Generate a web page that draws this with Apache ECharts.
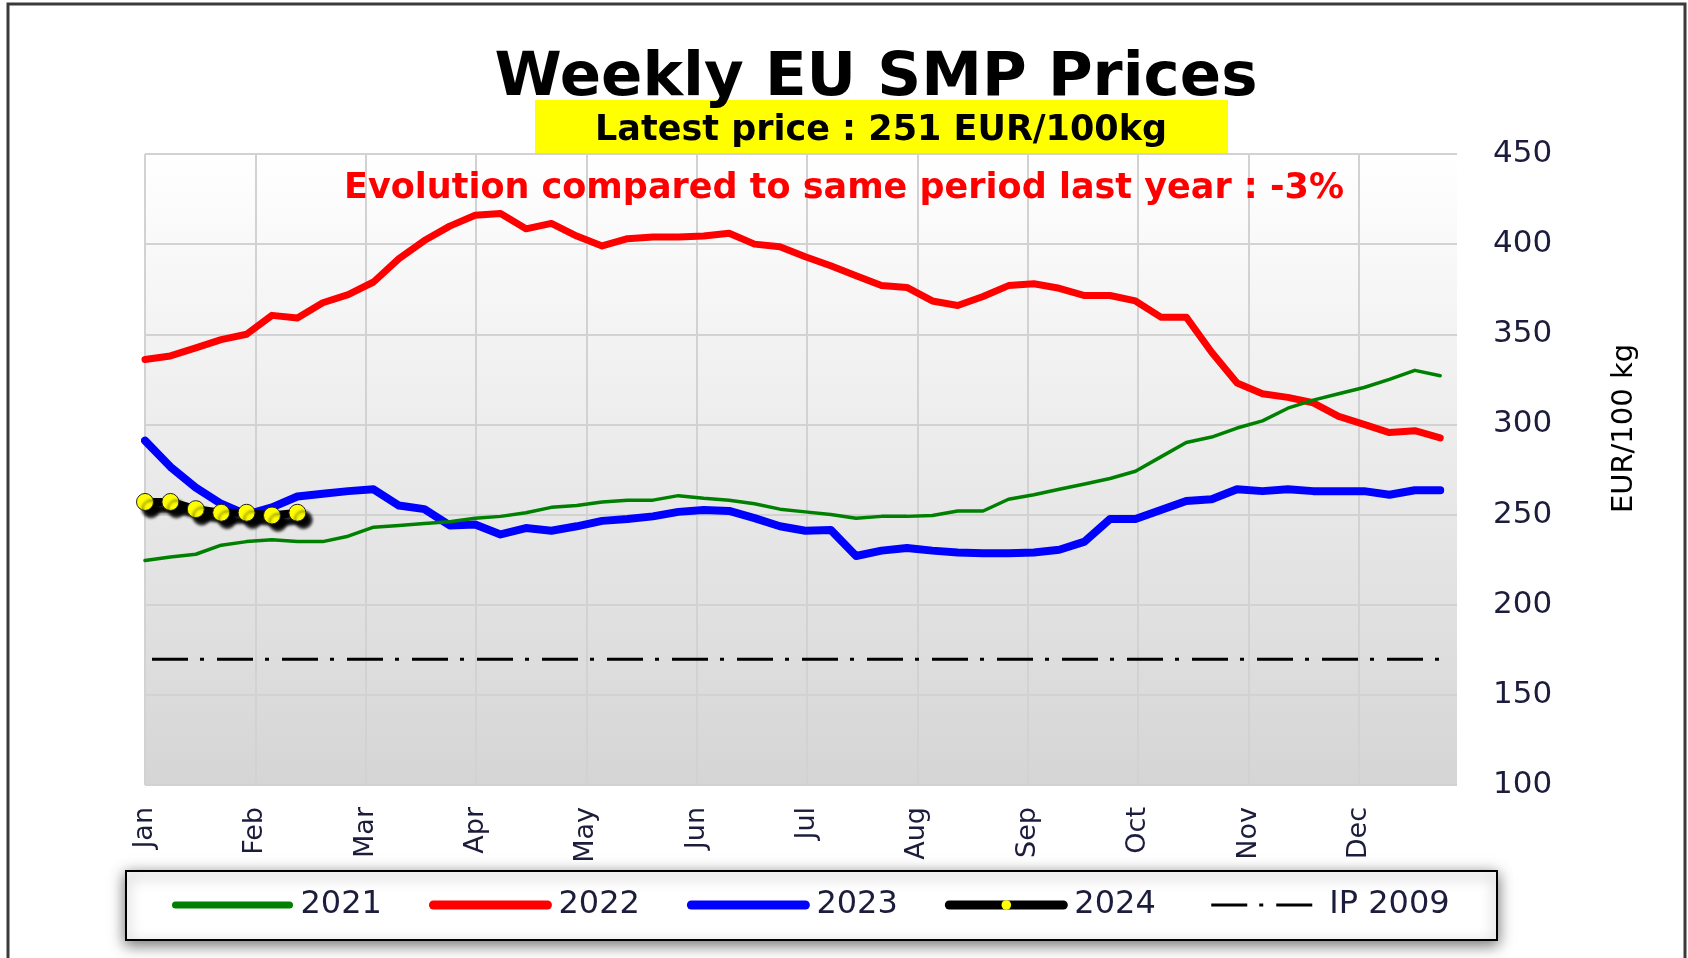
<!DOCTYPE html>
<html>
<head>
<meta charset="utf-8">
<script src="https://cdn.jsdelivr.net/npm/echarts@6/dist/echarts.min.js"></script>
<style>
html,body{margin:0;padding:0;background:#fff;}
#c{width:1688px;height:958px;}
</style>
</head>
<body>
<div id="c"></div>
<script>
// ---- data ----
const months = ['Jan','Feb','Mar','Apr','May','Jun','Jul','Aug','Sep','Oct','Nov','Dec'];
const weeks = Array.from({length: 52}, (_, i) => i);   // week index 0..51

const prices2021 = [224.5,226.5,228,233,235,236,235,235,238,243,244,245,246,248,249,251,254,255,257,258,258,260.5,259,258,256,253,
                    251.5,250,248,249,249,249.5,252,252,258.5,261,264,267,270,274,282,290,293,298,302,309,313.5,317,320.5,325,330,327];
const prices2022 = [336,338,342.5,347,350,360.5,359,367.5,372,379,392,402,410,416,417,408.5,411.5,404.5,399,403,404,404,404.5,406,400,398.5,
                    393,388,382.5,377,376,368.5,366,371,377,378,375.5,371.5,371.5,368.5,359.5,359.5,340,323,317,315,312,304.5,300,295.5,296.5,292.5];
const prices2023 = [291,276.5,265,256,250,254,260,261.5,263,264,255,253,244,244.5,239,242.5,241,243.5,246.5,247.5,249,251.5,252.5,252,248,243.5,
                    241,241.5,227,230,231.5,230,229,228.5,228.5,229,230.5,235,247.5,247.5,252.5,257.5,258.5,264,263,264,263,263,263,261,263.5,263.5];
const prices2024 = [257,257,253,251,251,249.5,251];
const ip2009Weeks = [0, 51.3];
const ip2009Values = [169.8, 169.8];

const titleText = 'Weekly EU SMP Prices';
const latestText = 'Latest price : 251 EUR/100kg';
const evolutionText = 'Evolution compared to same period last year : -3%';
const yAxisName = 'EUR/100 kg';

// ---- chart ----
const pairs = (xs, ys) => ys.map((v, i) => [xs[i], v]);
const weeksPerMonth = 365 / 12 / 7;          // month gridlines, in weeks
const xMaxWeeks = 11.889 * weeksPerMonth;     // right end of the plot
const FONT = 'DejaVu Sans';
const NAVY = '#1c1c3c';
const SHADOW = {shadowColor: 'rgba(0,0,0,0.95)', shadowBlur: 3, shadowOffsetX: 6, shadowOffsetY: 7};
const NO_SHADOW = {shadowBlur: 0, shadowOffsetX: 0, shadowOffsetY: 0, shadowColor: 'rgba(0,0,0,0)'};

const chart = echarts.init(document.getElementById('c'), null, {renderer: 'canvas'});
chart.setOption({
  animation: false,
  backgroundColor: '#ffffff',
  graphic: [
    {type: 'rect', z: 0, shape: {x: 8, y: 4, width: 1677, height: 1000},
     style: {fill: 'none', stroke: '#3a3a3a', lineWidth: 3}},
    {type: 'rect', z: 0, shape: {x: 535, y: 100, width: 693, height: 54},
     style: {fill: '#ffff00'}},
    {type: 'rect', z: 0, shape: {x: 126, y: 871, width: 1371, height: 69},
     style: {fill: '#ffffff', stroke: '#000', lineWidth: 2,
             shadowBlur: 14, shadowColor: 'rgba(0,0,0,0.55)', shadowOffsetX: 0, shadowOffsetY: 4}}
  ],
  title: [
    {text: titleText, left: 876, top: 79, textAlign: 'center', textVerticalAlign: 'middle', padding: 0,
     textStyle: {fontFamily: FONT, fontSize: 61, fontWeight: 'bold', color: '#000'}},
    {text: latestText, left: 881, top: 131, textAlign: 'center', textVerticalAlign: 'middle', padding: 0,
     textStyle: {fontFamily: FONT, fontSize: 35, fontWeight: 'bold', color: '#000'}},
    {text: evolutionText, left: 844, top: 189, textAlign: 'center', textVerticalAlign: 'middle', padding: 0,
     textStyle: {fontFamily: FONT, fontSize: 35, fontWeight: 'bold', color: '#ff0000'}}
  ],
  grid: {
    left: 145, right: 231, top: 154, bottom: 173, show: true, borderWidth: 0,
    backgroundColor: new echarts.graphic.LinearGradient(0, 0, 0, 1, [
      {offset: 0, color: '#ffffff'}, {offset: 1, color: '#d5d5d5'}
    ])
  },
  xAxis: {
    type: 'value', min: 0, max: xMaxWeeks, interval: weeksPerMonth,
    axisLine: {show: false}, axisTick: {show: false},
    axisLabel: {
      rotate: 90, margin: 22, fontSize: 27, color: NAVY, fontFamily: FONT, showMaxLabel: false,
      formatter: v => { const i = Math.round(v / weeksPerMonth); return Math.abs(v - i * weeksPerMonth) < 0.1 ? (months[i] || '') : ''; }
    },
    splitLine: {show: true, showMaxLine: false, lineStyle: {color: '#d2d2d2', width: 2}}
  },
  yAxis: {
    type: 'value', position: 'right', min: 100, max: 450, interval: 50,
    axisLine: {show: false}, axisTick: {show: false},
    axisLabel: {margin: 36, fontSize: 31, color: NAVY, fontFamily: FONT},
    splitLine: {show: true, lineStyle: {color: '#d2d2d2', width: 2}},
    name: yAxisName, nameLocation: 'middle', nameRotate: 90, nameGap: 153,
    nameTextStyle: {fontSize: 29, color: '#000', fontFamily: FONT, padding: [0, 0, 0, 82]}
  },
  legend: {
    left: 172, top: 889, padding: 0, itemWidth: 114, itemHeight: 12, itemGap: 47,
    selectedMode: false,
    textStyle: {fontSize: 32, color: NAVY, fontFamily: FONT, padding: [0, 0, 0, 6]},
    data: [
      {name: '2021', itemStyle: {opacity: 0}, lineStyle: {width: 7, cap: 'round'}},
      {name: '2022', itemStyle: {opacity: 0}, lineStyle: {width: 9, cap: 'round'}},
      {name: '2023', itemStyle: {opacity: 0}, lineStyle: {width: 9, cap: 'round'}},
      {name: '2024', itemStyle: Object.assign({color: '#ffff00', borderWidth: 0}, NO_SHADOW),
       lineStyle: Object.assign({width: 9, color: '#000', cap: 'round'}, NO_SHADOW)},
      {name: 'IP 2009', itemStyle: {opacity: 0}, lineStyle: {width: 3}}
    ]
  },
  series: [
    {name: 'IP 2009', type: 'line', data: pairs(ip2009Weeks, ip2009Values), symbol: 'none', z: 2,
     lineStyle: {color: '#000', width: 3, type: [36, 12, 4, 13], dashOffset: 58}},
    {name: '2022', type: 'line', data: pairs(weeks, prices2022), symbol: 'none', z: 3,
     itemStyle: {color: '#ff0000'},
     lineStyle: {color: '#ff0000', width: 7, cap: 'round', join: 'round'}},
    {name: '2023', type: 'line', data: pairs(weeks, prices2023), symbol: 'none', z: 3,
     itemStyle: {color: '#0000ff'},
     lineStyle: {color: '#0000ff', width: 8, cap: 'round', join: 'round'}},
    {name: '2021', type: 'line', data: pairs(weeks, prices2021), symbol: 'none', z: 4,
     itemStyle: {color: '#008000'},
     lineStyle: {color: '#008000', width: 3.5, cap: 'round', join: 'round'}},
    {name: '2024', type: 'line', data: pairs(weeks, prices2024), symbol: 'circle', symbolSize: 17, showSymbol: true, z: 5,
     itemStyle: Object.assign({color: '#ffff00', borderColor: '#222', borderWidth: 1}, SHADOW),
     lineStyle: Object.assign({color: '#000', width: 8, cap: 'round', join: 'round'}, SHADOW)}
  ]
});
</script>
</body>
</html>
